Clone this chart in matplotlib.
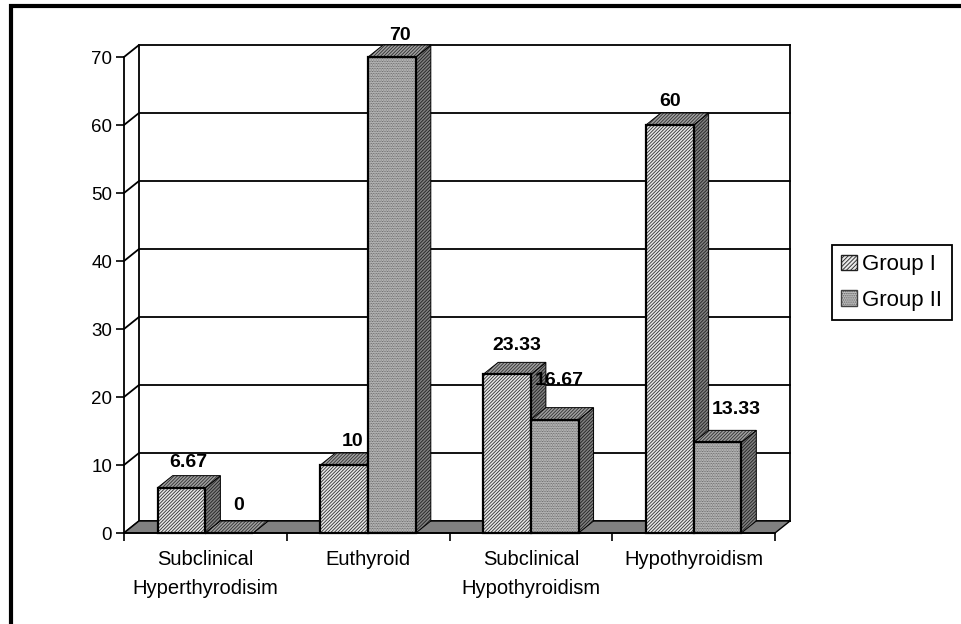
#!/usr/bin/env python
import matplotlib
matplotlib.use("Agg")
import matplotlib.pyplot as plt
from matplotlib.lines import Line2D
from matplotlib.patches import Patch, Polygon, Rectangle

categories = ["Subclinical\nHyperthyrodisim", "Euthyroid",
              "Subclinical\nHypothyroidism", "Hypothyroidism"]
group_1 = [6.67, 10, 23.33, 60]
group_2 = [0, 70, 16.67, 13.33]
y_ticks = [0, 10, 20, 30, 40, 50, 60, 70]

plt.rcParams["font.family"] = ["Liberation Sans", "DejaVu Sans"]
plt.rcParams["hatch.linewidth"] = 0.6

W, H = 961, 624
fig = plt.figure(figsize=(W / 100, H / 100), dpi=100)
ax = fig.add_axes([124 / W, 1 - 533 / H, 651 / W, 476 / H])
ax.set_xlim(0, 4)
ax.set_ylim(0, 70)

# depth of the fake 3d, in data units
DX = 15 / 162.75
DY = 12 / 6.8
BAR_W = 0.293
LW = 1.3

# back wall
for v in y_ticks:
    ax.plot([0, DX, 4 + DX], [v, v + DY, v + DY], color="black", lw=LW,
            clip_on=False, zorder=1, solid_joinstyle="miter")
ax.plot([DX, DX], [DY, 70 + DY], color="black", lw=LW, clip_on=False, zorder=1)
ax.plot([4 + DX, 4 + DX], [DY, 70 + DY], color="black", lw=LW, clip_on=False, zorder=1)

# floor
ax.add_patch(Polygon([(0, 0), (DX, DY), (4 + DX, DY), (4, 0)], closed=True,
                     facecolor="#808080", edgecolor="black", lw=1,
                     clip_on=False, zorder=2))


def textured(patch_cls, args, face, hatch_col, hatch, z, lw):
    # hatch colour follows edgecolor, so the fill and the outline are two patches
    ax.add_patch(patch_cls(*args, facecolor=face, edgecolor=hatch_col, lw=0,
                           hatch=hatch, clip_on=False, zorder=z))
    ax.add_patch(patch_cls(*args, fill=False, edgecolor="black", lw=lw,
                           clip_on=False, zorder=z))


def draw_bar(x, v, face, hatch_col, hatch, z):
    side = [(x + BAR_W, 0), (x + BAR_W + DX, DY), (x + BAR_W + DX, v + DY), (x + BAR_W, v)]
    top = [(x, v), (x + DX, v + DY), (x + BAR_W + DX, v + DY), (x + BAR_W, v)]
    textured(Polygon, (side,), "#808080", "#202020", "/" * 10, z, 0.7)
    textured(Polygon, (top,), "#a0a0a0", "#303030", "/" * 10, z, 0.7)
    textured(Rectangle, ((x, 0), BAR_W, v), face, hatch_col, hatch, z, 1.6)


for i in range(len(categories)):
    draw_bar(i + 0.5 - BAR_W, group_1[i], "#e8e8e8", "#303030", "/" * 10, 3 + i)
    draw_bar(i + 0.5, group_2[i], "#c8c8c8", "#505050", "." * 10, 3 + i)

# value labels, nudged in pixels as in the original
shift_1 = [(7, 25), (8, 24), (10, 29), (0, 24)]
shift_2 = [(9, 27), (8, 21), (5, 39), (19, 33)]
for i in range(len(categories)):
    for v, x, (sx, sy) in ((group_1[i], i + 0.5 - BAR_W / 2, shift_1[i]),
                           (group_2[i], i + 0.5 + BAR_W / 2, shift_2[i])):
        ax.annotate(f"{v:g}", (x, v), xytext=(sx * 0.72, sy * 0.72), textcoords="offset points",
                    ha="center", va="center", fontsize=14, fontweight="bold",
                    annotation_clip=False, zorder=20)

for s in ("top", "right"):
    ax.spines[s].set_visible(False)
for s in ("left", "bottom"):
    ax.spines[s].set_linewidth(LW)
    ax.spines[s].set_zorder(15)
ax.patch.set_visible(False)

ax.set_yticks(y_ticks)
ax.tick_params(axis="y", length=5.5, width=1.2, labelsize=13.5, pad=3)
ax.set_xticks(range(5))
ax.set_xticklabels([])
ax.tick_params(axis="x", which="major", length=5.5, width=1.2)
ax.set_xticks([i + 0.5 for i in range(4)], categories, minor=True)
ax.tick_params(axis="x", which="minor", length=0, labelsize=14.5, pad=12.5)
for t in ax.get_xticklabels(minor=True):
    t.set_linespacing(1.62)
    t.set_verticalalignment("top")

# legend
handles = [Patch(facecolor="#e8e8e8", edgecolor="#202020", hatch="/" * 8, lw=1),
           Patch(facecolor="#c8c8c8", edgecolor="#404040", hatch="." * 8, lw=1)]
leg = fig.legend(handles, ["Group I", "Group II"], loc="upper left",
                 bbox_to_anchor=(832 / W, 1 - 245 / H), fontsize=16, frameon=True,
                 fancybox=False, framealpha=1, edgecolor="black", borderpad=0.42,
                 labelspacing=0.65, handlelength=0.72, handleheight=0.72,
                 handletextpad=0.22, borderaxespad=0)
leg.get_frame().set_linewidth(1.3)

# outer picture frame, top and left only
fig.add_artist(Line2D([11 / W, 11 / W, 1], [0, 1 - 6 / H, 1 - 6 / H], color="black", lw=3,
                      solid_joinstyle="miter", transform=fig.transFigure))

fig.savefig("out.png", dpi=100)
